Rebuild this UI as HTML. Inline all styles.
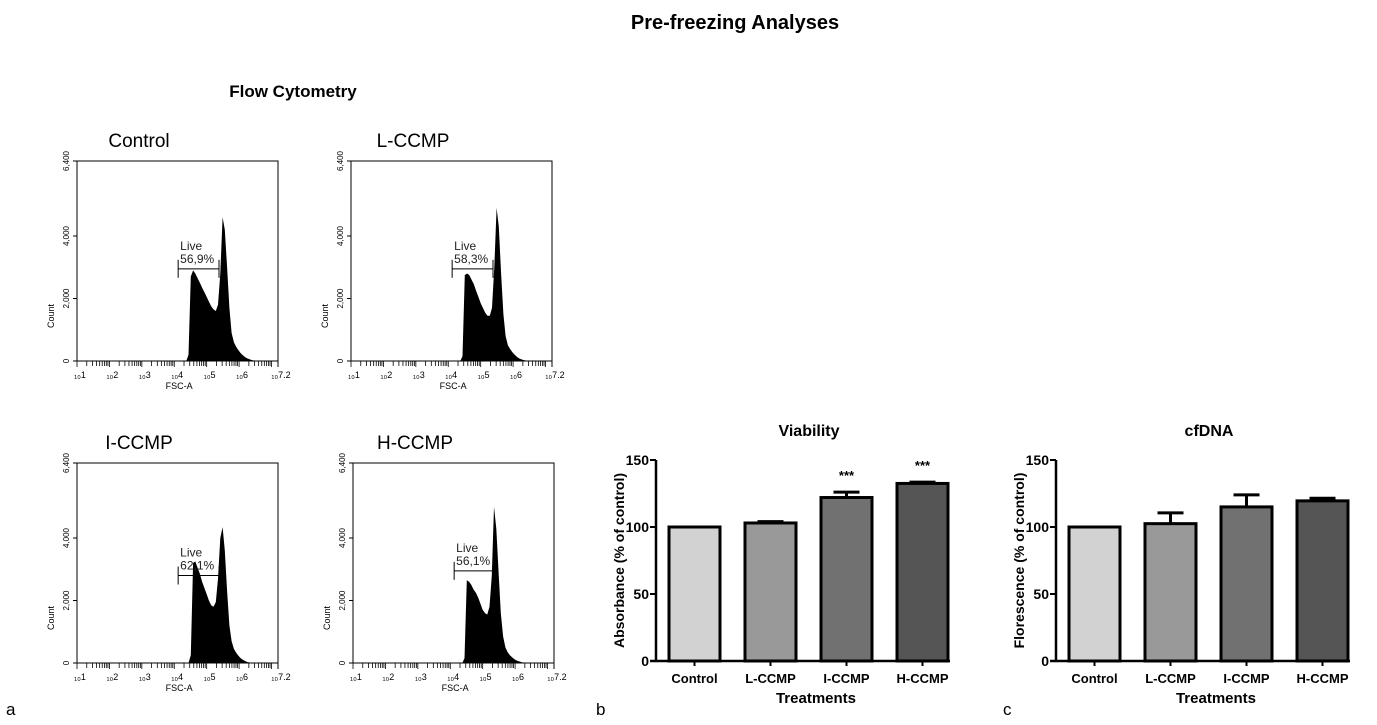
<!DOCTYPE html>
<html><head><meta charset="utf-8"><style>
body{margin:0;background:#fff;}
svg{display:block;font-family:"Liberation Sans",Arial,sans-serif;}
</style></head><body>
<svg id="fig" width="1377" height="725" viewBox="0 0 1377 725">
<text x="735" y="29" text-anchor="middle" font-size="20" font-weight="bold">Pre-freezing Analyses</text>
<text x="293" y="97" text-anchor="middle" font-size="17" font-weight="bold">Flow Cytometry</text>
<text x="6" y="715" font-size="17">a</text>
<text x="596" y="715" font-size="17">b</text>
<text x="1003" y="715" font-size="17">c</text>
<g id="hists"></g>
<g id="bars"></g>
</svg>
<script>
const histNames = ["Control","L-CCMP","I-CCMP","H-CCMP"];
const histGates = ["56,9%","58,3%","62,1%","56,1%"];
// counts per 0.07-decade bin starting at log10 = 4.30
const histStart = 4.30;
const histStep = 0.07;
const histControl = [0,0,200,2700,2900,2800,2650,2500,2350,2200,2050,1900,1750,1650,1600,1800,2800,4600,4200,3000,1700,900,600,450,350,250,180,120,80,50,30,15,0];
const histL = [0,0,150,2750,2800,2750,2600,2450,2250,2050,1850,1700,1550,1450,1450,1700,3000,4900,4300,2800,1500,800,500,380,280,200,130,80,50,30,15,0,0];
const histI = [0,0,0,250,3200,3250,3050,2850,2600,2400,2200,2000,1850,1800,1950,2700,4000,4350,3600,2300,1200,700,450,330,230,150,100,60,30,15,0,0,0];
const histH = [0,0,150,2650,2600,2500,2350,2250,2100,1900,1700,1600,1550,1800,2800,5000,4300,2900,1600,850,500,350,250,180,120,80,50,30,15,0,0,0,0];
const histSeries = [histControl,histL,histI,histH];
const gateRange = [[4.12,5.38],[4.12,5.38],[4.12,5.38],[4.12,5.38]];
const gateLevel = [2950,2950,2800,2950];
const yTicks = [0,2000,4000,6400];
const yTickLabels = ["0","2,000","4,000","6,400"];
const xTickDecades = [1,2,3,4,5,6];

const NS="http://www.w3.org/2000/svg";
function mk(tag,attrs,parent,text){const e=document.createElementNS(NS,tag);for(const k in attrs)e.setAttribute(k,attrs[k]);if(text!==undefined)e.textContent=text;parent.appendChild(e);return e;}

const boxes=[[77,161],[351,161],[77,463],[353,463]];
const hg=document.getElementById('hists');
histNames.forEach((name,i)=>{
  const [bx,by]=boxes[i]; const W=201,H=200;
  const g=mk('g',{},hg);
  
  
  const xs=v=>bx+(v-1)/6.2*W;
  const ys=c=>by+H-c/6400*H;
  const t=mk('text',{x:bx+62,y:by-14,'text-anchor':'middle','font-size':19},g,name);
  
  
  const r=mk('rect',{x:bx,y:by,width:W,height:H,fill:'none',stroke:'#000','stroke-width':1},g);
  
  
  yTicks.forEach((v,k)=>{
    mk('line',{x1:bx-4,x2:bx,y1:ys(v),y2:ys(v),stroke:'#000'},g);
    const tl=mk('text',{x:0,y:0,'font-size':8,'text-anchor':'middle',transform:`translate(${bx-8},${ys(v)}) rotate(-90)`},g,yTickLabels[k]);
    
    
  });
  const yl=mk('text',{x:0,y:0,'font-size':9,'text-anchor':'middle',transform:`translate(${bx-23},${by+H/2+55}) rotate(-90)`},g,'Count');
  
  
  for(let d=1;d<7.2;d++){
    for(let m=1;m<10;m++){const v=d+Math.log10(m); if(v>7.2)break;
      mk('line',{x1:xs(v),x2:xs(v),y1:by+H,y2:by+H+(m===1?6:5),stroke:'#000','stroke-width':0.8},g);}
  }
  mk('line',{x1:xs(7.2),x2:xs(7.2),y1:by+H,y2:by+H+6,stroke:'#000'},g);
  xTickDecades.concat([7.2]).forEach(d=>{
    const tl=mk('text',{x:xs(d)+3,y:by+H+17,'font-size':9,'text-anchor':'middle'},g,'\u2081\u2080'+d);
    
    
  });
  const xl=mk('text',{x:xs(4.15),y:by+H+28,'font-size':9,'text-anchor':'middle'},g,'FSC-A');
  
  
  const data=histSeries[i]; let d='M'+xs(histStart)+','+ys(0);
  data.forEach((c,k)=>{d+=' L'+xs(histStart+k*histStep).toFixed(1)+','+ys(c).toFixed(1);});
  d+=' L'+xs(histStart+(data.length-1)*histStep)+','+ys(0)+'Z';
  const p=mk('path',{d:d,fill:'#000'},g);
  
  
  const gx1=xs(gateRange[i][0]),gx2=xs(gateRange[i][1]),gy=ys(gateLevel[i]);
  const gg=mk('g',{stroke:'#000','stroke-width':1},g);
  
  
  mk('line',{x1:gx1,x2:gx2,y1:gy,y2:gy},gg);
  mk('line',{x1:gx1,x2:gx1,y1:gy-9,y2:gy+9},gg);
  mk('line',{x1:gx2,x2:gx2,y1:gy-9,y2:gy+9},gg);
  const l1=mk('text',{x:gx1+2,y:gy-19,'font-size':12,fill:'#222'},g,'Live');
  
  
  const l2=mk('text',{x:gx1+2,y:gy-6,'font-size':12,fill:'#222'},g,histGates[i]);
  
  
});

const barCategories = ["Control","L-CCMP","I-CCMP","H-CCMP"];
const viabilityValues = [100,103,122,132.5];
const viabilityErrors = [0,1,4,1];
const viabilityStars = ["","","***","***"];
const cfdnaValues = [100,102.5,115,119.5];
const cfdnaErrors = [0,8,9,2];
const cfdnaStars = ["","","",""];
const barYTicks = [0,50,100,150];
const barFills = ["#d2d2d2","#999","#717171","#555"];

function barChart(x0,title,yTitle,vals,errs,stars,name){
  const bg=document.getElementById('bars');
  const g=mk('g',{},bg);
  
  
  const top=460,bot=661,step=76,bw=51;
  const ys=v=>bot-v/150*(bot-top);
  const tt=mk('text',{x:x0+153,y:436,'text-anchor':'middle','font-size':16,'font-weight':'bold'},g,title);
  
  
  vals.forEach((v,k)=>{
    const x=x0+13+k*step;
    const r=mk('rect',{x:x,y:ys(v),width:bw,height:bot-ys(v),fill:barFills[k],stroke:'#000','stroke-width':3},g);
    
    
    if(errs[k]>0){
      const cx=x+bw/2;
      mk('line',{x1:cx,x2:cx,y1:ys(v),y2:ys(v+errs[k]),stroke:'#000','stroke-width':3},g);
      const e=mk('line',{x1:cx-13,x2:cx+13,y1:ys(v+errs[k]),y2:ys(v+errs[k]),stroke:'#000','stroke-width':3},g);
      
      
    }
    if(stars[k]){
      const s=mk('text',{x:x+bw/2,y:ys(v+errs[k])-12,'text-anchor':'middle','font-size':13,'font-weight':'bold'},g,stars[k]);
      
      
    }
    const tl=mk('text',{x:x+bw/2,y:bot+22,'text-anchor':'middle','font-size':13,'font-weight':'bold'},g,barCategories[k]);
    
    
    mk('line',{x1:x+bw/2,x2:x+bw/2,y1:bot,y2:bot+5,stroke:'#000','stroke-width':2},g);
  });
  mk('line',{x1:x0,x2:x0,y1:top,y2:bot,stroke:'#000','stroke-width':2.5},g);
  mk('line',{x1:x0-6,x2:x0+13+3*step+bw+2,y1:bot,y2:bot,stroke:'#000','stroke-width':2.5},g);
  barYTicks.forEach(v=>{
    mk('line',{x1:x0-6,x2:x0,y1:ys(v),y2:ys(v),stroke:'#000','stroke-width':2},g);
    const tl=mk('text',{x:x0-7,y:ys(v)+5,'text-anchor':'end','font-size':14,'font-weight':'bold'},g,String(v));
    
    
  });
  const yt=mk('text',{x:0,y:0,'text-anchor':'middle','font-size':14,'font-weight':'bold',transform:`translate(${x0-32},${(top+bot)/2}) rotate(-90)`},g,yTitle);
  
  
  const xt=mk('text',{x:x0+160,y:bot+42,'text-anchor':'middle','font-size':15,'font-weight':'bold'},g,'Treatments');
  
  
}
barChart(656,'Viability','Absorbance (% of control)',viabilityValues,viabilityErrors,viabilityStars,'viability');
barChart(1056,'cfDNA','Florescence (% of control)',cfdnaValues,cfdnaErrors,cfdnaStars,'cfdna');
</script>
</body></html>
